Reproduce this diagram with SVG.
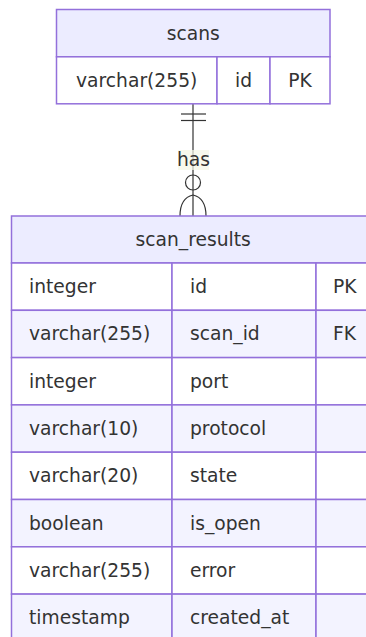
<svg xmlns="http://www.w3.org/2000/svg" width="366" height="637" viewBox="0 0 366 637">
<style>
.hdr{fill:#ececff;stroke:#9370db;stroke-width:1.5}
.odd{fill:#ffffff;stroke:#9370db;stroke-width:1.5}
.even{fill:#f3f3ff;stroke:#9370db;stroke-width:1.5}
.t{font-family:"DejaVu Sans",Verdana,sans-serif;font-size:18.7px;fill:#333;dominant-baseline:central}
.c{text-anchor:middle}
.rel{fill:none;stroke:#333;stroke-width:1.2}
</style>
<rect width="366" height="637" fill="#ffffff"/>
<g id="connectors">
<line class="rel" x1="193" y1="104" x2="193" y2="216"/>
<line class="rel" x1="181" y1="114" x2="206" y2="114"/>
<line class="rel" x1="181" y1="120.5" x2="206" y2="120.5"/>
<circle class="rel" cx="193" cy="182.5" r="7.5" fill="#fff"/>
<path class="rel" d="M180,216 Q180,198 193,195 Q206,198 206,216"/>
<rect x="178" y="150" width="31" height="20" fill="#f4f7e6" fill-opacity="0.7"/>
<text class="t c" x="193.5" y="159.5" font-size="16">has</text>
</g>
<g id="scans">
<rect class="hdr" x="56.5" y="9.5" width="273.5" height="47.3"/>
<rect class="odd" x="56.5" y="56.8" width="160.5" height="47"/>
<rect class="odd" x="217" y="56.8" width="53" height="47"/>
<rect class="odd" x="270" y="56.8" width="60" height="47"/>
<text class="t c" x="193.2" y="33">scans</text>
<text class="t c" x="136.7" y="80">varchar(255)</text>
<text class="t c" x="243.5" y="80">id</text>
<text class="t c" x="300" y="80">PK</text>
</g>
<g id="scan_results">
<rect class="hdr" x="11.5" y="216" width="363" height="47"/>
<g>
<rect class="odd" x="11.5" y="263" width="160.5" height="47.3"/><rect class="odd" x="172" y="263" width="144" height="47.3"/><rect class="odd" x="316" y="263" width="58.5" height="47.3"/>
<rect class="even" x="11.5" y="310.3" width="160.5" height="47.3"/><rect class="even" x="172" y="310.3" width="144" height="47.3"/><rect class="even" x="316" y="310.3" width="58.5" height="47.3"/>
<rect class="odd" x="11.5" y="357.6" width="160.5" height="47.3"/><rect class="odd" x="172" y="357.6" width="144" height="47.3"/><rect class="odd" x="316" y="357.6" width="58.5" height="47.3"/>
<rect class="even" x="11.5" y="404.9" width="160.5" height="47.3"/><rect class="even" x="172" y="404.9" width="144" height="47.3"/><rect class="even" x="316" y="404.9" width="58.5" height="47.3"/>
<rect class="odd" x="11.5" y="452.2" width="160.5" height="47.3"/><rect class="odd" x="172" y="452.2" width="144" height="47.3"/><rect class="odd" x="316" y="452.2" width="58.5" height="47.3"/>
<rect class="even" x="11.5" y="499.5" width="160.5" height="47.3"/><rect class="even" x="172" y="499.5" width="144" height="47.3"/><rect class="even" x="316" y="499.5" width="58.5" height="47.3"/>
<rect class="odd" x="11.5" y="546.8" width="160.5" height="47.3"/><rect class="odd" x="172" y="546.8" width="144" height="47.3"/><rect class="odd" x="316" y="546.8" width="58.5" height="47.3"/>
<rect class="even" x="11.5" y="594.1" width="160.5" height="47.3"/><rect class="even" x="172" y="594.1" width="144" height="47.3"/><rect class="even" x="316" y="594.1" width="58.5" height="47.3"/>
</g>
<text class="t c" x="193.2" y="239.5">scan_results</text>
<text class="t" x="29" y="286.6">integer</text><text class="t" x="190" y="286.6">id</text><text class="t" x="333" y="286.6">PK</text>
<text class="t" x="29" y="333.9">varchar(255)</text><text class="t" x="190" y="333.9">scan_id</text><text class="t" x="333" y="333.9">FK</text>
<text class="t" x="29" y="381.2">integer</text><text class="t" x="190" y="381.2">port</text>
<text class="t" x="29" y="428.5">varchar(10)</text><text class="t" x="190" y="428.5">protocol</text>
<text class="t" x="29" y="475.8">varchar(20)</text><text class="t" x="190" y="475.8">state</text>
<text class="t" x="29" y="523.1">boolean</text><text class="t" x="190" y="523.1">is_open</text>
<text class="t" x="29" y="570.4">varchar(255)</text><text class="t" x="190" y="570.4">error</text>
<text class="t" x="29" y="617.7">timestamp</text><text class="t" x="190" y="617.7">created_at</text>
</g>
</svg>
